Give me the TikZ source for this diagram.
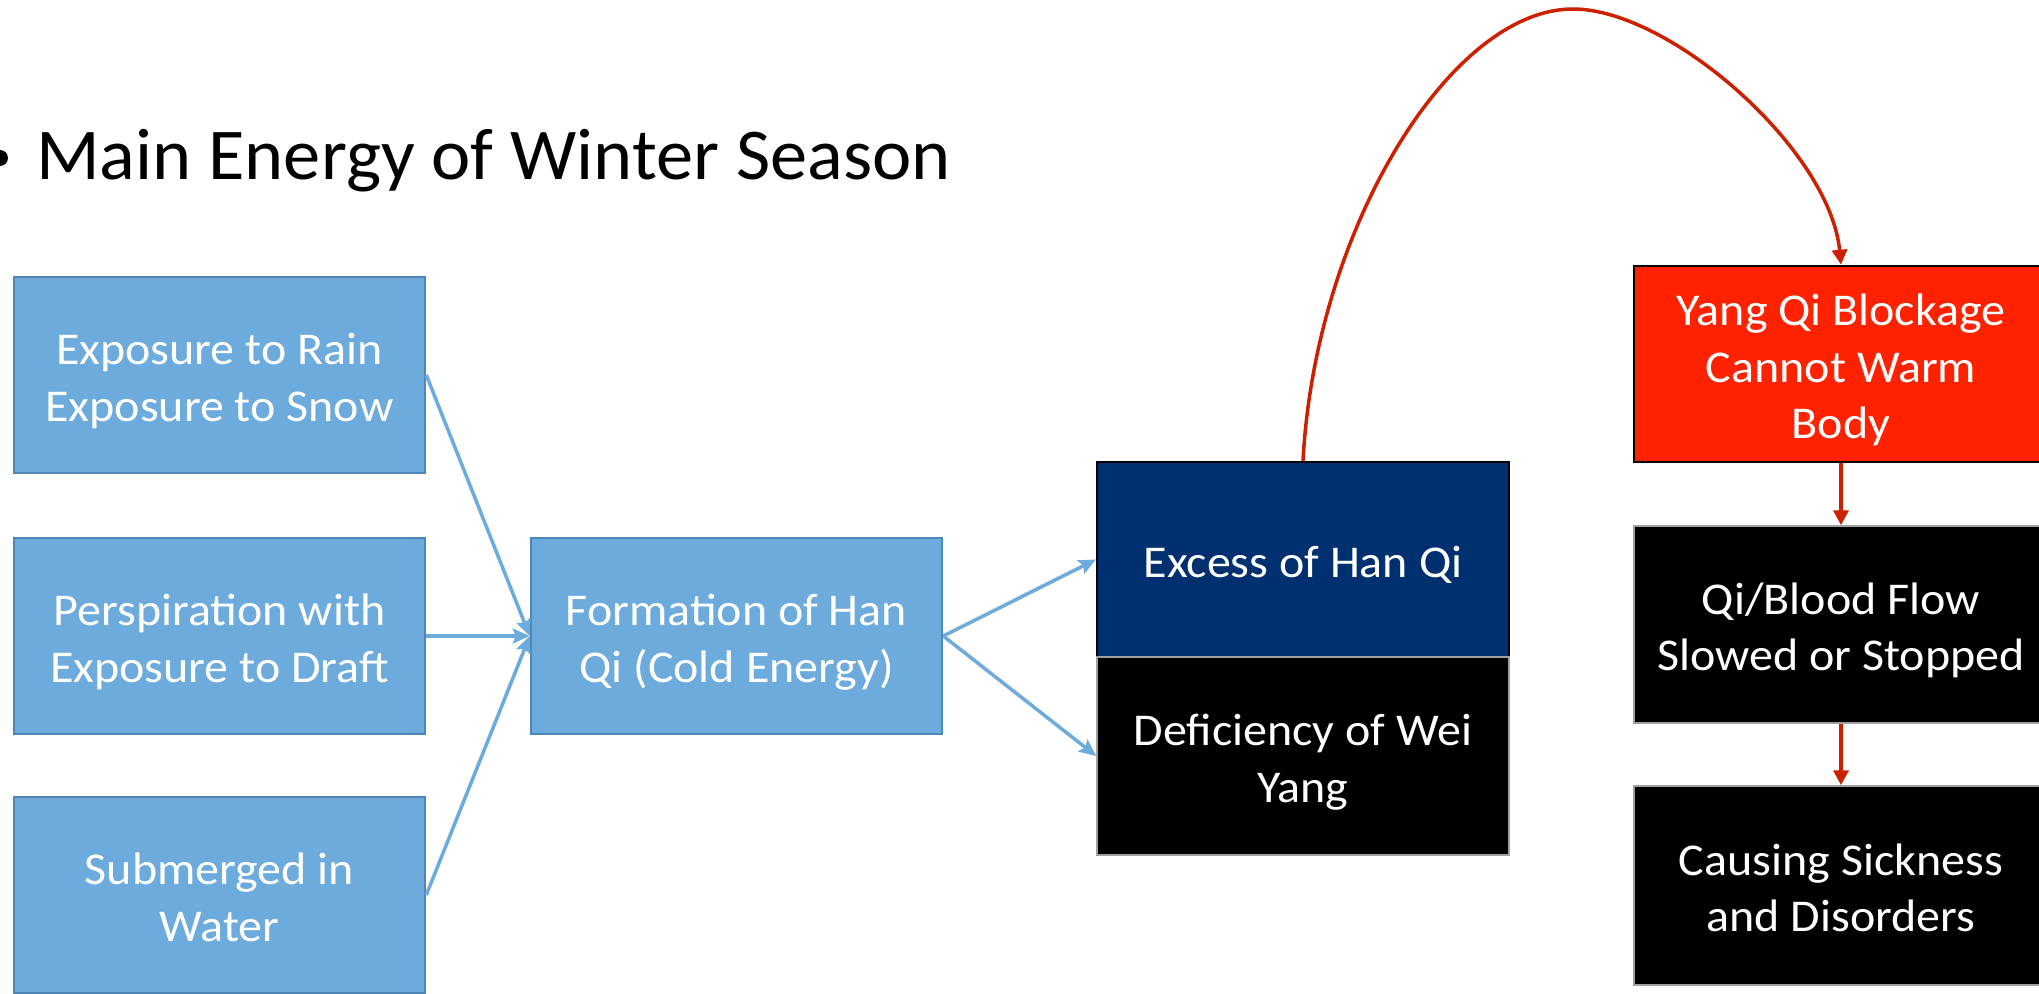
\documentclass[tikz,border=0pt]{standalone}
\usepackage{fontspec}
\setmainfont{Carlito}
\newfontfamily\boxfont{Carlito}[FakeStretch=1.055]
\newfontfamily\headfont{Carlito}[FakeStretch=1.02]
\usetikzlibrary{arrows.meta}
\definecolor{boxblue}{HTML}{6CABDC}
\definecolor{boxblueline}{HTML}{4F86B8}
\definecolor{navy}{HTML}{00306F}
\definecolor{hotred}{HTML}{FF2200}
\definecolor{arrowred}{HTML}{CC2000}
\definecolor{arrowblue}{HTML}{6CABDC}
\definecolor{greyline}{HTML}{A0A0A0}
\newcommand{\ls}{\rule[-10.25pt]{0pt}{56.5pt}}
\begin{document}
\begin{tikzpicture}[x=1pt,y=-1pt,
  box/.style={rectangle, minimum width=411pt, minimum height=196pt, inner sep=0pt,
    align=center, text=white, font={\boxfont\fontsize{45.5}{56.5}\selectfont\lineskiplimit=-100pt}},
  bluebox/.style={box, fill=boxblue, draw=boxblueline, line width=2.5pt},
  navybox/.style={box, fill=navy, draw=black, line width=2pt},
  blackbox/.style={box, fill=black, draw=greyline, line width=1.5pt},
  redbox/.style={box, fill=hotred, draw=black, line width=2.5pt},
  bluearrow/.style={draw=arrowblue, line width=3.5pt, -{Stealth[length=17pt,width=15pt,inset=3pt]}},
  redarrow/.style={draw=arrowred, line width=3.5pt, -{Triangle[length=15pt,width=15pt]}},
]
\useasboundingbox (0,0) rectangle (2039,993);

% bullet line
\fill (0,158) circle[radius=8pt];
\node[anchor=base west, inner sep=0pt, font={\headfont\fontsize{73}{88}\selectfont}] (heading) at (36,179) {Main Energy of Winter Season};

% left column
\node[bluebox] (b1) at (219.5,375) {\ls Exposure to Rain\\\ls Exposure to Snow};
\node[bluebox] (b2) at (219.5,636) {\ls Perspiration with\\\ls Exposure to Draft};
\node[bluebox] (b3) at (219.5,895) {\ls Submerged in\\\ls Water};

% middle
\node[bluebox] (form) at (736.5,636) {\ls Formation of Han\\\ls Qi (Cold Energy)};

\node[navybox, minimum width=412pt, minimum height=195pt] (excess) at (1303,559.5) {\ls Excess of Han Qi};
\node[blackbox, minimum width=412pt, minimum height=198pt] (defic) at (1303,756) {\ls Deficiency of Wei\\\ls Yang};

% right column
\node[redbox, minimum width=414pt] (yang) at (1841,364) {\ls Yang Qi Blockage\\\ls Cannot Warm\\\ls Body};
\node[blackbox, minimum width=414pt, minimum height=197pt] (qib) at (1841,624.5) {\ls Qi/Blood Flow\\\ls Slowed or Stopped};
\node[blackbox, minimum width=414pt, minimum height=199pt] (cause) at (1841,885.5) {\ls Causing Sickness\\\ls and Disorders};

% connectors
\draw[bluearrow] (b1.east) -- (form.west);
\draw[bluearrow] (b2.east) -- (form.west);
\draw[bluearrow] (b3.east) -- (form.west);
\draw[bluearrow] (form.east) -- (excess.west);
\draw[bluearrow] (form.east) -- (defic.west);

\coordinate (peak) at (1573,9);
\draw[redarrow] (excess.north) .. controls (1315,230) and (1450,9) .. (peak)
  .. controls (1670,9) and (1830,150) .. (yang.north);
\draw[redarrow] (yang.south) -- (qib.north);
\draw[redarrow] (qib.south) -- (cause.north);
\end{tikzpicture}
\end{document}
